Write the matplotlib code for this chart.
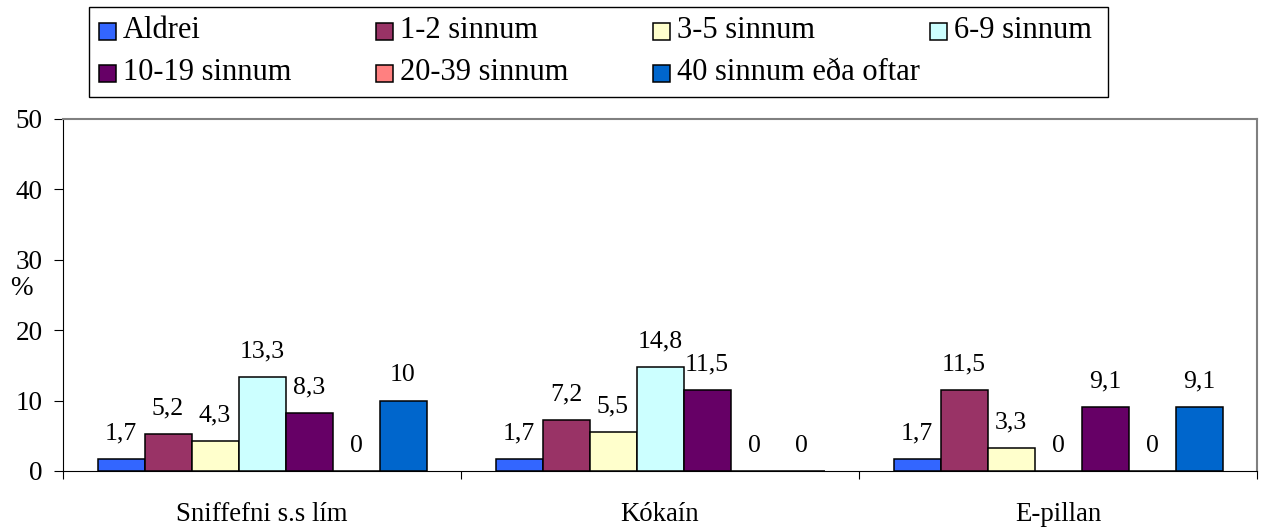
import matplotlib.pyplot as plt
from matplotlib.patches import Rectangle
import numpy as np

plt.rcParams['font.family'] = ['Liberation Serif', 'DejaVu Serif']

# gögn lesin af myndinni
categories = ['Sniffefni s.s lím', 'Kókaín', 'E-pillan']
series = ['Aldrei', '1-2 sinnum', '3-5 sinnum', '6-9 sinnum',
          '10-19 sinnum', '20-39 sinnum', '40 sinnum eða oftar']
aldrei = [1.7, 1.7, 1.7]
s1_2 = [5.2, 7.2, 11.5]
s3_5 = [4.3, 5.5, 3.3]
s6_9 = [13.3, 14.8, 0]
s10_19 = [8.3, 11.5, 9.1]
s20_39 = [0, 0, 0]
s40 = [10, 0, 9.1]
values = [aldrei, s1_2, s3_5, s6_9, s10_19, s20_39, s40]
colors = ['#3366FF', '#993366', '#FFFFCC', '#CCFFFF', '#660066', '#FF8080', '#0066CC']
yticks = [0, 10, 20, 30, 40, 50]

W, H = 1263, 527
fig = plt.figure(figsize=(W / 100, H / 100), dpi=100)
ax = fig.add_axes([63 / W, 1 - 471 / H, (1257 - 63) / W, (471 - 119) / H])

x = np.arange(len(categories))
bw = 47 / 398
n = len(series)
for j in range(n):
    pos = x + (j - (n - 1) / 2) * bw
    ax.bar(pos, values[j], bw, color=colors[j], edgecolor='black', linewidth=1.1, zorder=3)
    for xi, v in zip(pos, values[j]):
        lab = ('%g' % v).replace('.', ',')
        ax.annotate(lab, (xi, v), xytext=(0, 14), textcoords='offset points',
                    ha='center', va='baseline', fontsize=18.5)

ax.set_xlim(-0.5, len(categories) - 0.5)
ax.set_ylim(0, 50)
ax.set_yticks(yticks)
ax.tick_params(axis='y', labelsize=19.5, length=6.5, width=0.8, pad=8)
ax.set_xticks(np.arange(len(categories) + 1) - 0.5)
ax.set_xticklabels([])
ax.tick_params(axis='x', which='major', length=6, width=0.8)
ax.set_xticks(x, minor=True)
ax.set_xticklabels(categories, minor=True)
ax.tick_params(axis='x', which='minor', length=0, labelsize=19.3, pad=22)

for s in ['left', 'bottom']:
    ax.spines[s].set_color('black')
    ax.spines[s].set_linewidth(0.8)
for s in ['top', 'right']:
    ax.spines[s].set_color('#808080')
    ax.spines[s].set_linewidth(1.5)

fig.text(21 / W, 1 - 295 / H, '%', ha='center', va='baseline', fontsize=19.5)

# þjóðsaga (legend) teiknuð handvirkt
fig.add_artist(Rectangle((89 / W, 1 - 97 / H), (1108 - 89) / W, 90 / H,
                         transform=fig.transFigure, fill=False, edgecolor='black', linewidth=1))
msz = 17
for i, (lab, col) in enumerate(zip(series, colors)):
    r, c = divmod(i, 4)
    x0 = 99 + c * 277
    yc = 31 + r * 42
    fig.add_artist(Rectangle((x0 / W, 1 - (yc + msz / 2) / H), msz / W, msz / H,
                             transform=fig.transFigure, facecolor=col,
                             edgecolor='black', linewidth=1.1))
    fig.text((x0 + msz + 7) / W, 1 - yc / H, lab, ha='left', va='center', fontsize=22)

fig.savefig('out.png', dpi=100)
